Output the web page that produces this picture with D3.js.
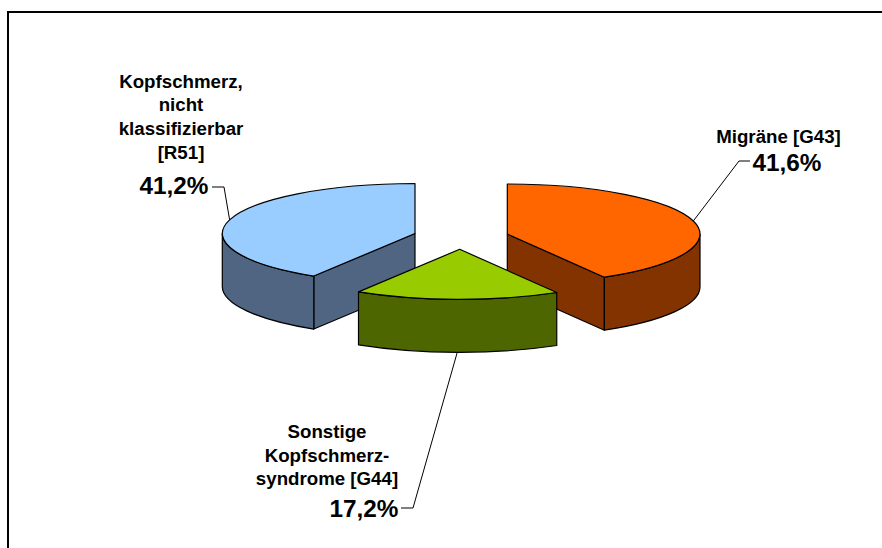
<!DOCTYPE html>
<html lang="de">
<head>
<meta charset="UTF-8">
<title>Kopfschmerz</title>
<script src="https://d3js.org/d3.v7.min.js"></script>
<style>
    html, body { margin: 0; padding: 0; background: #fff; }
    svg { display: block; }
    text { font-family: "Liberation Sans", Arial, sans-serif; font-weight: bold; fill: #000; text-anchor: middle; }
    .name { font-size: 18.7px; }
    .pct { font-size: 24.3px; }
    .edge { stroke: #000; stroke-width: 1.2px; stroke-linejoin: round; }
    .leader { fill: none; stroke: #000; stroke-width: 1px; }
</style>
</head>
<body>
<svg width="882" height="548"></svg>
<script>
    // values as printed on the chart, in pie order (clockwise from 12 o'clock)
    const categories = ["Migräne [G43]", "Sonstige Kopfschmerz-syndrome [G44]", "Kopfschmerz, nicht klassifizierbar [R51]"];
    const shares = [41.6, 17.2, 41.2];
    const shareLabels = ["41,6%", "17,2%", "41,2%"];
    const topColors = ["#ff6600", "#99cc00", "#99ccff"];
    const sideColors = ["#823300", "#4d6600", "#4f6581"];
    const labelLines = [
        ["Migräne [G43]"],
        ["Sonstige", "Kopfschmerz-", "syndrome [G44]"],
        ["Kopfschmerz,", "nicht", "klassifizierbar", "[R51]"]
    ];

    // layout of the tilted, exploded pie
    const rx = 192.7, ry = 50, depth = 53;
    const apex = [[507.3, 234], [459.7, 249.3], [415, 233.5]];
    const nameX = [778.5, 327, 181];
    const nameY = [[143], [438, 462, 485], [88, 111, 135, 159]];
    const pctPos = [[787, 171], [364, 517], [174, 194]];
    const elbows = [
        [[739, 161], [750, 161]],
        [[413, 508], [401, 508]],
        [[224, 187], [212, 187]]
    ];

    const svg = d3.select("svg");

    // chart frame, right and bottom sides are cut off by the picture
    svg.append("rect")
        .attr("x", 8).attr("y", 12)
        .attr("width", 900).attr("height", 600)
        .attr("fill", "#fff").attr("stroke", "#000").attr("stroke-width", 2);

    const arcs = d3.pie().sort(null).value(d => d)(shares);

    // project a pie angle on the tilted ellipse
    const px = (i, a) => apex[i][0] + rx * Math.sin(a);
    const py = (i, a) => apex[i][1] - ry * Math.cos(a);

    const arcGen = d3.arc().innerRadius(0).outerRadius(rx);

    function rim(i, a0, a1, dy) {
        const sweep = a1 > a0 ? 1 : 0;
        return `A${rx},${ry} 0 0 ${sweep} ${px(i, a1)},${py(i, a1) + dy}`;
    }

    // outer wall between two angles
    function wall(i, a0, a1) {
        return `M${px(i, a0)},${py(i, a0)}` + rim(i, a0, a1, 0) +
            `L${px(i, a1)},${py(i, a1) + depth}` + rim(i, a1, a0, depth) + "Z";
    }

    // straight cut face from the centre out to one angle
    function cut(i, a) {
        const [cx, cy] = apex[i];
        return `M${cx},${cy}L${px(i, a)},${py(i, a)}L${px(i, a)},${py(i, a) + depth}L${cx},${cy + depth}Z`;
    }

    // which faces are visible from the front, per slice
    const faces = [
        a => [cut(0, a.endAngle), wall(0, Math.PI / 2, a.endAngle)],
        a => [wall(1, a.startAngle, a.endAngle)],
        a => [cut(2, a.startAngle), wall(2, 1.5 * Math.PI, a.startAngle)]
    ];

    // back slices first, the front one on top
    [2, 0, 1].forEach(i => {
        const g = svg.append("g");
        faces[i](arcs[i]).forEach(d => {
            g.append("path").attr("class", "edge").attr("fill", sideColors[i]).attr("d", d);
        });
        g.append("path").attr("class", "edge").attr("fill", topColors[i])
            .attr("vector-effect", "non-scaling-stroke")
            .attr("transform", `translate(${apex[i][0]},${apex[i][1]}) scale(1,${ry / rx})`)
            .attr("d", arcGen(arcs[i]));
    });

    // leader lines start on the rim at each slice's middle angle
    const line = d3.line();
    svg.selectAll("path.leader").data(arcs).join("path")
        .attr("class", "leader")
        .attr("d", (a, i) => {
            const mid = (a.startAngle + a.endAngle) / 2;
            const front = Math.cos(mid) < -0.9 ? depth : 0;
            return line([[px(i, mid), py(i, mid) + front], ...elbows[i]]);
        });

    categories.forEach((c, i) => {
        const t = svg.append("text").attr("class", "name").attr("aria-label", c);
        labelLines[i].forEach((l, j) => {
            t.append("tspan").attr("x", nameX[i]).attr("y", nameY[i][j]).text(l);
        });
        svg.append("text").attr("class", "pct")
            .attr("x", pctPos[i][0]).attr("y", pctPos[i][1]).text(shareLabels[i]);
    });
</script>
</body>
</html>
